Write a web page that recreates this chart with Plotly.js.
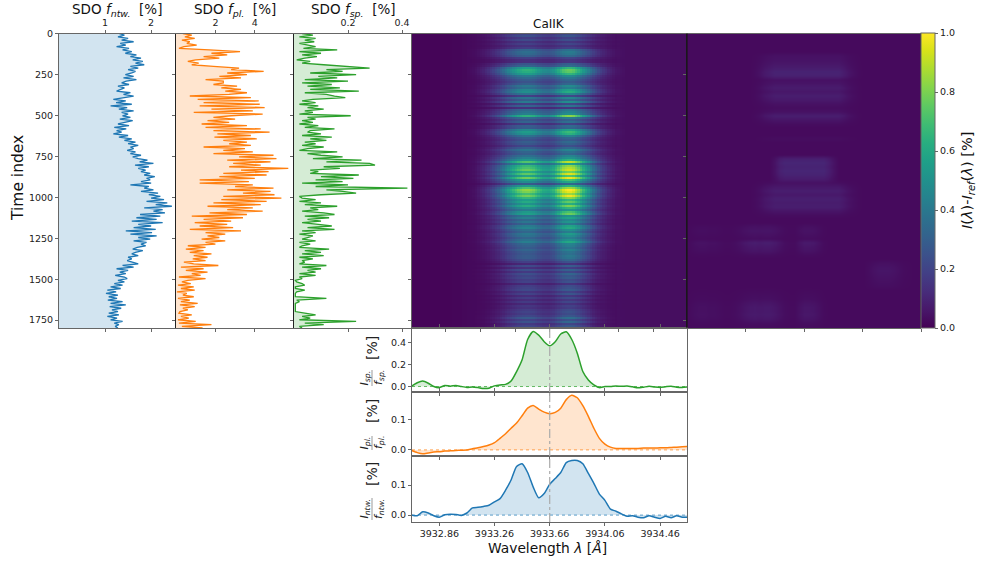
<!DOCTYPE html>
<html><head><meta charset="utf-8">
<script src="https://cdn.plot.ly/plotly-3.0.1.min.js"></script>
<style>html,body{margin:0;padding:0;background:#fff}</style></head>
<body><div id="chart" style="width:981px;height:561px"></div>
<script>
// Time series, one value per 10 time indices
const fNtw=[1.30,1.42,1.28,1.50,1.36,1.62,1.33,1.45,1.25,1.52,
1.38,1.58,1.44,1.68,1.55,1.78,1.60,1.82,1.66,1.85,
1.55,1.72,1.50,1.66,1.58,1.44,1.62,1.40,1.68,1.46,
1.36,1.52,1.28,1.42,1.34,1.25,1.55,1.40,1.62,1.38,
1.18,1.45,1.24,1.58,1.12,1.48,1.30,1.62,1.36,1.50,
1.38,1.55,1.32,1.60,1.40,1.28,1.52,1.20,1.46,1.25,
1.36,1.18,1.50,1.30,1.58,1.42,1.66,1.50,1.72,1.55,
1.62,1.48,1.66,1.55,1.78,1.60,1.72,1.92,1.75,2.05,
1.65,1.95,1.72,1.88,1.78,1.98,1.85,2.08,1.90,1.98,
1.78,2.00,1.55,1.95,1.85,2.05,1.78,2.15,1.95,2.20,
2.00,2.28,1.90,2.35,2.10,2.45,1.85,2.25,2.05,2.30,
1.76,2.20,1.68,2.12,1.58,2.25,1.72,2.00,1.62,2.10,
1.45,2.02,1.55,2.12,1.72,1.98,1.62,1.90,1.78,1.88,
1.70,1.60,1.82,1.66,1.58,1.72,1.50,1.58,1.48,1.62,
1.72,1.38,1.62,1.25,1.50,1.32,1.45,1.22,1.42,1.48,
1.28,1.42,1.20,1.38,1.12,1.34,1.05,1.24,1.02,1.28,
1.08,1.26,1.06,1.38,1.12,1.45,1.10,1.35,1.15,1.28,
1.08,1.30,1.05,1.26,1.12,1.38,1.20,1.30,1.22,1.28];
const fPl=[.35,.80,.45,.95,.30,.70,.55,1.05,.40,.15,
1.70,3.25,1.80,2.60,1.40,2.20,1.00,.60,1.15,.80,
1.90,3.20,2.80,4.45,2.60,3.60,2.20,3.30,1.50,2.40,
2.40,1.90,3.10,2.30,3.30,2.50,3.60,2.70,.70,3.80,
1.10,4.20,1.40,4.25,1.20,4.50,1.80,3.90,.90,4.40,
2.80,1.90,3.00,1.60,2.70,1.30,3.60,1.50,4.30,1.90,
4.75,2.10,3.80,1.95,4.10,2.40,3.60,2.70,3.80,1.40,
3.50,2.40,3.90,1.90,4.95,3.20,5.10,2.60,4.80,2.90,
4.30,2.70,5.70,3.30,4.70,2.40,4.60,2.20,4.00,1.20,
3.70,1.20,3.90,3.00,4.95,2.60,4.80,3.40,5.00,2.40,
5.35,2.30,4.60,1.90,4.30,1.60,3.90,2.60,4.40,1.70,
3.60,.80,3.40,1.40,2.80,.95,2.60,1.20,2.90,.70,
3.30,1.50,2.50,1.60,2.20,1.30,2.50,1.50,2.00,.60,
1.50,.50,1.40,.70,1.80,.90,1.60,.85,1.50,.40,
.90,2.15,.25,1.40,.50,1.60,.80,1.25,.15,1.50,
.60,.30,.75,.10,.90,.25,.95,.05,.55,.35,
.90,.10,.70,.25,1.10,.20,.95,.35,.60,.20,
.15,.80,.25,.65,.10,1.00,.15,1.80,.30,1.35];
const fSp=[.03,.07,.02,.08,.04,.075,.02,.05,.08,.035,
.16,.02,.10,.03,.085,.04,.01,.06,.03,.11,
.18,.28,.12,.18,.06,.23,.09,.16,.04,.20,
.03,.14,.05,.17,.06,.24,.04,.12,.15,.19,
.07,.03,.08,.02,.09,.05,.11,.04,.07,.02,
.21,.05,.08,.03,.07,.02,.09,.04,.15,.06,
.05,.10,.03,.14,.06,.12,.04,.08,.03,.11,
.05,.02,.16,.05,.10,.18,.07,.25,.12,.28,
.30,.11,.17,.06,.09,.06,.24,.10,.22,.08,
.18,.03,.20,.08,.42,.12,.18,.23,.10,.02,
.03,.08,.02,.10,.04,.16,.06,.09,.03,.11,
.15,.04,.13,.05,.10,.03,.09,.14,.05,.15,
.03,.08,.02,.07,.05,.03,.08,.02,.06,.03,
.02,.13,.04,.10,.03,.11,.02,.07,.03,.04,
.02,.12,.03,.10,.05,.08,.02,.08,.02,.03,
.005,.01,.03,.04,.005,.005,.04,.01,.005,.005,
.005,.12,.01,.02,.005,.005,.005,.005,.005,.005,
.04,.08,.03,.06,.02,.23,.04,.11,.02,.03];
// Spectra: one value per 0.04 A from 3932.66
const specSp=[.005,.035,.05,.03,0,-.01,.01,.003,.01,0,-.008,-.004,-.01,-.018,-.015,.006,.015,.02,.05,.137,.245,.43,.503,.47,.41,.372,.41,.48,.50,.43,.305,.137,.06,.015,-.01,0,0,.005,.002,.004,-.003,-.012,-.006,.002,-.004,-.008,-.002,.003,-.006,-.009,-.004];
const specPl=[-.002,-.009,-.013,-.01,-.007,-.006,-.004,-.003,-.002,-.001,0,.004,.007,.011,.016,.024,.038,.053,.071,.088,.112,.137,.146,.134,.124,.119,.123,.137,.165,.179,.171,.145,.11,.071,.038,.019,.009,.005,.005,.005,.005,.005,.006,.006,.006,.007,.007,.008,.009,.01,.011];
const specNtw=[0,-.002,.011,.007,-.002,-.007,.001,.003,.002,-.001,.007,.024,.026,.029,.033,.044,.055,.083,.117,.162,.171,.142,.094,.058,.072,.103,.122,.142,.175,.182,.182,.171,.139,.106,.07,.049,.02,.013,.004,-.004,-.002,-.007,-.009,-.002,-.007,-.011,-.004,-.009,-.002,-.007,-.007];
// Left panel image: row strengths (148 rows) and wavelength shapes (110 columns)
const rowRight=[.20,.24,.17,.22,.13,.18,.12,.16,.33,.38,.36,.30,.16,.12,.12,.26,.30,.62,.72,.70,.62,.44,.36,.30,.26,.30,.45,.40,.55,.60,.42,.20,.42,.30,.46,.20,.36,.14,.38,.42,.46,.82,.40,.28,.34,.18,.32,.30,.55,.66,.62,.42,.30,.26,.32,.28,.22,.30,.42,.34,.30,.42,.48,.62,.90,.55,.82,.88,.92,.78,.95,.72,.98,.70,.58,.32,.62,.84,1.0,.96,.84,.98,.82,.66,.76,.62,.80,.66,.52,.72,.78,.50,.58,.46,.52,.40,.58,.62,.50,.42,.56,.50,.44,.52,.62,.46,.44,.40,.46,.40,.38,.42,.40,.34,.26,.14,.30,.18,.32,.22,.34,.28,.30,.24,.26,.14,.24,.26,.30,.20,.28,.16,.24,.16,.22,.14,.20,.18,.24,.26,.24,.28,.40,.26,.36,.22,.28,.30];
const rowLeft=[.18,.22,.15,.20,.12,.16,.11,.15,.28,.32,.30,.25,.14,.10,.10,.22,.27,.50,.58,.55,.50,.36,.30,.25,.22,.26,.36,.32,.42,.44,.34,.16,.34,.26,.36,.16,.28,.12,.30,.34,.38,.60,.32,.24,.28,.15,.26,.26,.42,.50,.46,.34,.26,.22,.26,.24,.18,.26,.34,.28,.26,.32,.38,.48,.68,.42,.62,.66,.72,.58,.70,.55,.74,.52,.44,.26,.50,.68,.80,.76,.66,.74,.62,.52,.58,.48,.58,.46,.38,.50,.52,.34,.40,.30,.36,.28,.38,.42,.34,.30,.38,.36,.30,.36,.40,.32,.30,.28,.32,.28,.26,.28,.28,.24,.18,.10,.22,.13,.24,.16,.24,.20,.22,.18,.19,.10,.18,.20,.22,.15,.20,.12,.18,.12,.17,.10,.16,.14,.18,.20,.18,.22,.30,.20,.26,.17,.20,.22];
const rowWing=[.10,.12,.09,.11,.08,.10,.08,.10,.18,.20,.20,.18,.12,.08,.08,.16,.20,.32,.38,.38,.32,.24,.20,.16,.14,.16,.22,.20,.26,.28,.22,.10,.22,.16,.24,.10,.18,.07,.18,.22,.24,.34,.20,.14,.18,.08,.16,.15,.26,.30,.28,.20,.15,.13,.16,.14,.11,.16,.22,.18,.16,.22,.26,.30,.38,.26,.36,.38,.40,.34,.40,.30,.40,.30,.26,.14,.28,.36,.42,.40,.36,.40,.34,.28,.30,.26,.32,.26,.22,.26,.30,.20,.22,.18,.20,.15,.22,.22,.18,.15,.18,.16,.14,.16,.20,.14,.12,.10,.12,.10,.10,.10,.10,.08,.06,.03,.07,.04,.08,.05,.08,.06,.07,.05,.06,.03,.05,.05,.06,.04,.05,.03,.04,.03,.04,.03,.03,.03,.04,.05,.04,.05,.06,.05,.06,.04,.05,.05];
const shapeLeft=[0,0,0,0,0,0,0,0,0,0,0,0,0,0,0,0,0,0,0,0,0,0,0,0,0,0,.01,.015,.02,.035,.05,.075,.10,.14,.18,.24,.30,.375,.45,.515,.58,.64,.70,.74,.78,.79,.78,.74,.70,.62,.54,.46,.38,.315,.25,.205,.16,.125,.09,.07,.05,.035,.02,.015,.01];
const shapeRight=[0,0,0,0,0,0,0,0,0,0,0,0,0,0,0,0,0,0,0,0,0,0,0,0,0,0,0,0,0,0,0,0,0,0,0,0,0,0,0,0,0,0,0,0,0,0,.01,.02,.03,.045,.06,.085,.11,.15,.19,.26,.33,.43,.53,.615,.70,.745,.78,.785,.76,.70,.64,.56,.48,.41,.34,.27,.20,.15,.10,.075,.05,.035,.02,.015,.01];
const shapeWing=[0,0,0,0,0,0,0,0,0,0,0,0,0,0,0,0,0,0,0,0,0,0,.02,.035,.05,.075,.10,.135,.17,.205,.24,.28,.32,.35,.38,.40,.42,.435,.45,.45,.45,.45,.45,.45,.45,.45,.45,.45,.45,.45,.45,.45,.45,.45,.45,.45,.45,.45,.45,.45,.45,.45,.45,.45,.45,.45,.45,.45,.45,.45,.45,.435,.42,.385,.35,.30,.25,.21,.17,.135,.10,.075,.05,.035,.02];
const floorCols=[.01,.01,.01,.01,.01,.01,.01,.01,.01,.01,.01,.01,.012,.012,.012,.012,.015,.015,.015,.015,.018,.018,.02,.02,.02,.02,.02,.02,.02,.02,.02,.02,.02,.02,.02,.02,.02,.02,.02,.02,.02,.02,.02,.02,.02,.02,.02,.02,.02,.02,.02,.02,.02,.02,.02,.02,.02,.02,.02,.02,.02,.02,.02,.02,.02,.02,.02,.02,.02,.02,.02,.02,.02,.02,.025,.025,.03,.03,.03,.03,.03,.03,.035,.035,.035,.035,.035,.035,.035,.035,.035,.035,.035,.035,.035,.035,.035,.035,.035,.035,.035,.035,.035,.035,.035,.035,.035,.035,.035,.035,.035,.035,.035,.035,.035,.035];
// Right panel image: faint patches, row strengths (74 rows) and wavelength shapes (47 columns)
const patchRowsTop=[0,0,0,0,0,.02,.025,.035,.05,.07,.065,.02,.03,.05,.035,.055,.04,.02,.01,.02,.055,.03,.01,0,0,0,.01,0,0,0,0,0,0,0,0,0,0,.01,.035,.055,.04,.06,.05,.055,.03,.01,0,0,0,0,0,0,0,0,0,0,0,0,0,0,0,0,0,0,0,0,0,0,0,0,0,0,0,0];
const patchColsTop=[0,0,0,0,0,0,0,0,0,0,0,0,0,.1,.3,.6,.8,1,1,1,1,1,1,1,1,1,1,1,1,1,1,.7,.4,.2,.05,0,0,0,0,0,0,0,0,0,0,0,0];
const patchRowsMid=[0,0,0,0,0,0,0,0,0,0,0,0,0,0,0,0,0,0,0,0,0,0,0,0,0,0,0,0,0,0,0,.06,.08,.07,.08,.07,.05,.01,0,0,0,0,0,0,0,0,0,0,0,0,0,0,0,0,0,0,0,0,0,0,0,0,0,0,0,0,0,0,0,0,0,0,0,0];
const patchColsMid=[0,0,0,0,0,0,0,0,0,0,0,0,0,0,0,0,0,.3,.8,1,1,1,1,1,1,1,1,1,.7,.3,0,0,0,0,0,0,0,0,0,0,0,0,0,0,0,0,0];
const patchRowsLow=[0,0,0,0,0,0,0,0,0,0,0,0,0,0,0,0,0,0,0,0,0,0,0,0,0,0,0,0,0,0,0,0,0,0,0,0,0,0,0,0,0,0,0,0,0,0,0,0,.02,.03,.02,.01,.055,.04,.03,.01,0,0,0,0,0,0,0,0,.005,.01,.015,.03,.04,.04,.045,.035,.015,.005];
const patchColsLow=[.1,.3,.4,.4,.3,.3,.2,.1,.1,.2,.4,.7,.9,1,.9,1,1,.8,.5,.2,.1,.1,.5,.8,.8,.7,.4,.1,0,0,0,0,0,0,0,0,0,0,0,0,0,0,0,0,0,0,0];
const patchRowsRight=[0,0,0,0,0,0,0,0,0,0,0,0,0,0,0,0,0,0,0,0,0,0,0,0,0,0,0,0,0,0,0,0,0,0,0,0,0,0,0,0,0,0,0,0,0,0,0,0,0,0,0,0,0,0,0,0,0,.015,.025,.03,.025,.02,.015,.01,0,0,0,0,0,0,0,0,0,0];
const patchColsRight=[0,0,0,0,0,0,0,0,0,0,0,0,0,0,0,0,0,0,0,0,0,0,0,0,0,0,0,0,0,0,0,0,0,0,0,0,.3,.7,1,1,1,.8,.5,.2,.1,0,0];
const patchFloor=.025;
const ntwTicks=[1,2],plTicks=[2,4,6],spTicks=[.2,.4];
const timeTicks=[0,250,500,750,1000,1250,1500,1750];
const waveTicks=[3932.86,3933.26,3933.66,3934.06,3934.46];
const waveLabels=['3932.86','3933.26','3933.66','3934.06','3934.46'];

const W=981,H=561;
const px=v=>v/W, py=v=>1-v/H;
const FONT='"DejaVu Sans",sans-serif';
const AX='#666';
const BLUE='#1f77b4',ORANGE='#ff7f0e',GREEN='#2ca02c';
const fill=(c)=>c==BLUE?'rgba(31,119,180,0.2)':c==ORANGE?'rgba(255,127,14,0.2)':'rgba(44,160,44,0.2)';
const timeIdx=fNtw.map((_,i)=>i*1798/179);
const specWave=specSp.map((_,i)=>3932.66+i*0.04);
const common={linecolor:AX,linewidth:1,ticks:'outside',ticklen:3,tickcolor:AX,tickwidth:1,showgrid:false,zeroline:false,tickfont:{family:FONT,size:9.5,color:'#222'},fixedrange:true};
const yTime={...common,range:[1798,0],tickvals:timeTicks,showticklabels:false};
const traces=[];
function timeTrace(vals,c,n){traces.push({type:'scatter',mode:'lines',x:vals,y:timeIdx,xaxis:'x'+n,yaxis:'y'+n,line:{color:c,width:1.3},fill:'tozerox',fillcolor:fill(c),hoverinfo:'skip'});}
timeTrace(fNtw,BLUE,1);timeTrace(fPl,ORANGE,2);timeTrace(fSp,GREEN,3);
// Images
const zLeft=rowRight.map((r,i)=>floorCols.map((b,c)=>Math.min(1,b+r*(shapeRight[c]||0)+rowLeft[i]*(shapeLeft[c]||0)+rowWing[i]*(shapeWing[c]||0))));
const zRight=patchRowsTop.map((_,i)=>patchColsTop.map((_,c)=>patchFloor+patchRowsTop[i]*patchColsTop[c]+patchRowsMid[i]*patchColsMid[c]+patchRowsLow[i]*patchColsLow[c]+patchRowsRight[i]*patchColsRight[c]));
traces.push({type:'heatmap',z:zLeft,x0:3932.662+0.00906,dx:0.01812,y0:6,dy:12.16,xaxis:'x4',yaxis:'y4',colorscale:'Viridis',zmin:0,zmax:1,showscale:false,hoverinfo:'skip'});
traces.push({type:'heatmap',z:zRight,x0:.5,dx:1,y0:12,dy:24.3,xaxis:'x5',yaxis:'y5',colorscale:'Viridis',zmin:0,zmax:1,zsmooth:'best',hoverinfo:'skip',
 colorbar:{x:921/W,xanchor:'left',xref:'paper',y:py(328),yanchor:'bottom',yref:'paper',len:294.5/H,lenmode:'fraction',thickness:14,thicknessmode:'pixels',xpad:0,ypad:0,outlinecolor:AX,outlinewidth:1,ticks:'outside',ticklen:3,tickcolor:AX,tickvals:[0,.2,.4,.6,.8,1],tickformat:'.1f',tickfont:{family:FONT,size:9.5,color:'#222'}}});
// Spectra
function specTrace(vals,c,n){traces.push({type:'scatter',mode:'lines',x:specWave,y:vals,xaxis:'x'+n,yaxis:'y'+n,line:{color:c,width:1.5,shape:'spline',smoothing:.6},fill:'tozeroy',fillcolor:fill(c),hoverinfo:'skip'});}
specTrace(specSp,GREEN,6);specTrace(specPl,ORANGE,7);specTrace(specNtw,BLUE,8);

const waveRange=[3932.662,3934.655];
const layout={width:W,height:H,margin:{l:0,r:0,t:0,b:0},paper_bgcolor:'#fff',plot_bgcolor:'rgba(0,0,0,0)',showlegend:false,font:{family:FONT,color:'#111'},
 xaxis:{...common,domain:[px(59),px(176)],range:[0,2.54],side:'top',tickvals:ntwTicks,ticktext:['1','2'],anchor:'y',mirror:'ticks'},
 yaxis:{...common,domain:[py(328),py(33.5)],range:[1798,0],tickvals:timeTicks,anchor:'x'},
 xaxis2:{...common,domain:[px(176),px(294)],range:[0,5.99],side:'top',tickvals:plTicks,anchor:'y2',mirror:'ticks'},
 yaxis2:{...yTime,domain:[py(328),py(33.5)],anchor:'x2',linecolor:'#222'},
 xaxis3:{...common,domain:[px(294),px(412)],range:[0,.437],side:'top',tickvals:spTicks,anchor:'y3',mirror:'ticks'},
 yaxis3:{...yTime,domain:[py(328),py(33.5)],anchor:'x3',linecolor:'#222'},
 xaxis4:{...common,domain:[px(412),px(687)],range:waveRange,tick0:3932.908,dtick:0.2507,showticklabels:false,anchor:'y4',side:'bottom',mirror:true},
 yaxis4:{...yTime,domain:[py(328),py(33.5)],anchor:'x4'},
 xaxis5:{...common,domain:[px(687),px(921)],range:[0,47],tick0:11.75,dtick:11.75,showticklabels:false,anchor:'y5',side:'bottom',mirror:true},
 yaxis5:{...yTime,domain:[py(328),py(33.5)],anchor:'x5',linecolor:'#222'},
 xaxis6:{...common,domain:[px(412),px(687)],range:waveRange,tickvals:waveTicks,showticklabels:false,anchor:'y6',mirror:'ticks'},
 yaxis6:{...common,domain:[py(392),py(328)],range:[-.05,.535],tickvals:[0,.2,.4],tickformat:'.1f',anchor:'x6',mirror:true},
 xaxis7:{...common,domain:[px(412),px(687)],range:waveRange,tickvals:waveTicks,showticklabels:false,anchor:'y7',mirror:'ticks'},
 yaxis7:{...common,domain:[py(456),py(392)],range:[-.02,.19],tickvals:[0,.1],tickformat:'.1f',anchor:'x7',mirror:true},
 xaxis8:{...common,domain:[px(412),px(687)],range:waveRange,tickvals:waveTicks,ticktext:waveLabels,anchor:'y8',mirror:true},
 yaxis8:{...common,domain:[py(522),py(456)],range:[-.023,.197],tickvals:[0,.1],tickformat:'.1f',anchor:'x8',mirror:true},
 shapes:[],annotations:[]};
function zero(n,c){layout.shapes.push({type:'line',xref:'x'+n,yref:'y'+n,x0:waveRange[0],x1:waveRange[1],y0:0,y1:0,line:{color:c,width:1,dash:'dot'},opacity:.7,layer:'above'});
 layout.shapes.push({type:'line',xref:'x'+n,yref:'y'+n+' domain',x0:3933.66,x1:3933.66,y0:0,y1:1,line:{color:'#aaa',width:1.2,dash:'dashdot'},layer:'above'});}
zero(6,GREEN);zero(7,ORANGE);zero(8,BLUE);
function pline(x0,y0,x1,y1,c,w){layout.shapes.push({type:'line',xref:'paper',yref:'paper',x0:px(x0),x1:px(x1),y0:py(y0),y1:py(y1),line:{color:c,width:w||1},layer:'above'});}
pline(687,33.5,687,328,'#111');pline(921,33.5,921,328,'#222');
function txt(t,x,y,size,rot,color){layout.annotations.push({text:t,xref:'paper',yref:'paper',x:px(x),y:py(y),xanchor:'center',yanchor:'middle',showarrow:false,textangle:rot||0,font:{family:FONT,size:size,color:color||'#111'}});}
const mi=(a,b)=>'<i>'+a+'</i><sub><i>'+b+'</i></sub>';
txt('SDO '+mi('f','ntw.')+'  [%]',117,10,13.5);
txt('SDO '+mi('f','pl.')+'  [%]',235,10,13.5);
txt('SDO '+mi('f','sp.')+'  [%]',353,10,13.5);
txt('CaIIK',549,24,12);
txt('Time index',18,178,15.5,-90);
txt('Wavelength <i>λ</i> [<i>Å</i>]',547,548,13.8);
txt('<i>I</i>(<i>λ</i>)-<i>I</i><sub><i>ref</i></sub>(<i>λ</i>) [%]',968,181,14.5,-90);
function frac(a,b,yF,yP,half){txt(mi('I',a),364.5,yF,11,-90,'#222');txt(mi('f',b),379,yF,11,-90,'#222');pline(372,yF-half,372,yF+half,'#999');txt('[%]',372,yP,14,-90,'#222');}
frac('sp.','sp.',378,348,8);frac('pl.','pl.',443,411,7);frac('ntw.','ntw.',509,474,11);
Plotly.newPlot('chart',traces,layout,{displayModeBar:false,staticPlot:true});
</script></body></html>
